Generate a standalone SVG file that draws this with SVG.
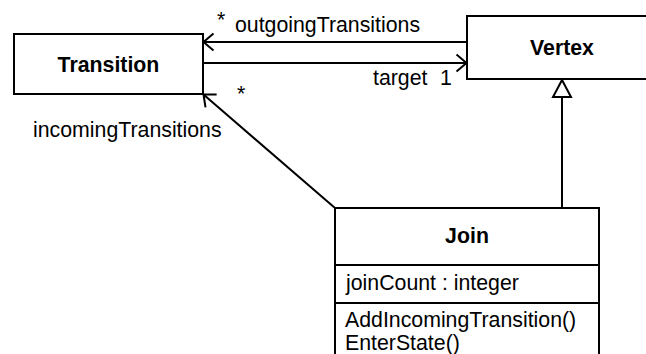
<svg xmlns="http://www.w3.org/2000/svg" width="646" height="354" viewBox="0 0 646 354">
<defs>
<style>
.box{fill:#fff;stroke:#000;stroke-width:2}
.ln{fill:none;stroke:#000;stroke-width:2}
text{font-family:"Liberation Sans",Arial,sans-serif;font-size:21.3px;fill:#000}
.b{font-weight:bold;text-anchor:middle}
</style>
<marker id="open" markerUnits="userSpaceOnUse" viewBox="-12 -10 14 20" refX="0" refY="0" markerWidth="14" markerHeight="20" orient="auto">
<path d="M-10,-8.5 L0,0 L-10,8.5" fill="none" stroke="#000" stroke-width="2"/>
</marker>
</defs>
<rect width="646" height="354" fill="#fff"/>
<g id="connectors">
<line class="ln" x1="467" y1="42" x2="203.5" y2="42" marker-end="url(#open)"/>
<line class="ln" x1="203" y1="63" x2="466.5" y2="63" marker-end="url(#open)"/>
<line class="ln" x1="335" y1="208" x2="203.5" y2="94.5" marker-end="url(#open)"/>
<line class="ln" x1="562" y1="208" x2="562" y2="97"/>
<polygon points="562,80 553,97 571,97" fill="#fff" stroke="#000" stroke-width="2"/>
<text x="217" y="27">*</text>
<text x="235" y="32">outgoingTransitions</text>
<text x="373" y="85">target</text>
<text x="440" y="85">1</text>
<text x="237" y="101">*</text>
<text x="33" y="137">incomingTransitions</text>
</g>
<g id="transition">
<rect class="box" x="14" y="34" width="189" height="60"/>
<text class="b" x="108.5" y="72">Transition</text>
</g>
<g id="vertex">
<rect class="box" x="467" y="16" width="190" height="63"/>
<text class="b" x="562" y="55">Vertex</text>
</g>
<g id="join">
<rect class="box" x="335" y="208" width="264" height="160"/>
<line class="ln" x1="335" y1="265" x2="599" y2="265"/>
<line class="ln" x1="335" y1="303" x2="599" y2="303"/>
<text class="b" x="467" y="243">Join</text>
<text x="346" y="290">joinCount : integer</text>
<text x="345" y="327">AddIncomingTransition()</text>
<text x="345" y="350">EnterState()</text>
</g>
</svg>
